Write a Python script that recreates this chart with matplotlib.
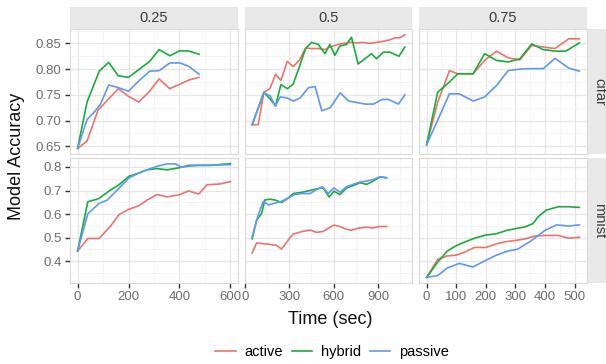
import matplotlib
matplotlib.use("Agg")
import matplotlib.pyplot as plt
from matplotlib.lines import Line2D
from matplotlib.ticker import MultipleLocator, FormatStrFormatter

plt.rcParams['font.family'] = ['Liberation Sans', 'DejaVu Sans']

# ---- data -----------------------------------------------------------------
datasets = ["cifar", "mnist"]
fractions = ["0.25", "0.5", "0.75"]
strategies = ["active", "hybrid", "passive"]
colors = ["#F0736B", "#19AD3A", "#5F98F8"]

# cifar, fraction 0.25
c25_active_t = [0, 37, 80, 122, 160, 200, 240, 283, 320, 362, 403, 438, 477]
c25_active = [0.646, 0.660, 0.720, 0.742, 0.762, 0.747, 0.736, 0.757, 0.781, 0.762, 0.771, 0.779, 0.784]
c25_hybrid_t = [0, 37, 85, 122, 160, 200, 240, 283, 320, 362, 403, 438, 477]
c25_hybrid = [0.646, 0.736, 0.796, 0.813, 0.787, 0.784, 0.799, 0.815, 0.838, 0.826, 0.836, 0.835, 0.829]
c25_passive_t = [0, 37, 63, 89, 122, 160, 200, 240, 283, 320, 362, 403, 438, 477]
c25_passive = [0.646, 0.702, 0.715, 0.731, 0.769, 0.764, 0.757, 0.777, 0.796, 0.797, 0.812, 0.812, 0.805, 0.790]

# cifar, fraction 0.5
c50_active_t = [50, 91, 129, 170, 208, 244, 287, 327, 368, 410, 451, 496, 541, 574, 642, 709,
                754, 799, 844, 889, 934, 979, 1013, 1047, 1080]
c50_active = [0.692, 0.692, 0.755, 0.762, 0.790, 0.778, 0.815, 0.805, 0.817, 0.841, 0.840, 0.840,
              0.838, 0.843, 0.849, 0.852, 0.851, 0.852, 0.850, 0.852, 0.854, 0.857, 0.861, 0.861, 0.867]
c50_hybrid_t = [50, 129, 170, 208, 244, 287, 327, 368, 410, 451, 496, 541, 574, 608, 642, 687,
                720, 765, 810, 855, 889, 934, 979, 1040, 1080]
c50_hybrid = [0.692, 0.755, 0.742, 0.729, 0.770, 0.762, 0.771, 0.804, 0.840, 0.852, 0.848, 0.830,
              0.848, 0.827, 0.845, 0.848, 0.862, 0.810, 0.820, 0.830, 0.820, 0.833, 0.833, 0.825, 0.843]
c50_passive_t = [50, 129, 172, 206, 239, 284, 329, 374, 430, 475, 520, 577, 644, 700, 757, 813,
                 869, 925, 970, 1037, 1080]
c50_passive = [0.692, 0.754, 0.748, 0.728, 0.746, 0.744, 0.738, 0.744, 0.764, 0.766, 0.719, 0.725,
               0.754, 0.738, 0.735, 0.732, 0.732, 0.741, 0.741, 0.732, 0.750]

# cifar, fraction 0.75
c75_active_t = [0, 37, 77, 105, 157, 196, 236, 275, 315, 355, 394, 434, 480, 516]
c75_active = [0.653, 0.735, 0.797, 0.791, 0.791, 0.817, 0.835, 0.822, 0.818, 0.846, 0.843, 0.840, 0.859, 0.859]
c75_hybrid_t = [0, 37, 77, 105, 157, 196, 236, 275, 315, 355, 394, 434, 470, 516]
c75_hybrid = [0.653, 0.755, 0.775, 0.791, 0.791, 0.830, 0.817, 0.814, 0.820, 0.849, 0.838, 0.835, 0.835, 0.851]
c75_passive_t = [0, 77, 110, 157, 196, 236, 275, 315, 355, 394, 434, 480, 516]
c75_passive = [0.653, 0.752, 0.752, 0.738, 0.746, 0.768, 0.797, 0.800, 0.801, 0.801, 0.821, 0.802, 0.796]

# mnist, fraction 0.25
m25_active_t = [0, 40, 84, 129, 162, 201, 240, 273, 312, 351, 397, 436, 476, 508, 561, 600]
m25_active = [0.443, 0.496, 0.496, 0.548, 0.597, 0.620, 0.635, 0.659, 0.683, 0.673, 0.681, 0.698,
              0.685, 0.724, 0.728, 0.738]
m25_hybrid_t = [0, 40, 84, 129, 162, 201, 240, 273, 312, 351, 397, 436, 476, 522, 600]
m25_hybrid = [0.443, 0.652, 0.666, 0.702, 0.724, 0.760, 0.774, 0.788, 0.793, 0.788, 0.796, 0.807,
              0.807, 0.807, 0.814]
m25_passive_t = [0, 40, 84, 116, 162, 201, 240, 273, 312, 351, 384, 410, 436, 476, 522, 600]
m25_passive = [0.443, 0.601, 0.645, 0.659, 0.709, 0.753, 0.774, 0.788, 0.803, 0.813, 0.813, 0.799,
               0.803, 0.807, 0.807, 0.810]

# mnist, fraction 0.5
m50_active_t = [50, 80, 125, 170, 215, 248, 293, 327, 383, 440, 484, 529, 574, 601, 642, 687,
                720, 766, 822, 867, 912, 957]
m50_active = [0.434, 0.477, 0.474, 0.471, 0.467, 0.451, 0.489, 0.515, 0.525, 0.532, 0.522, 0.526,
              0.543, 0.553, 0.547, 0.535, 0.531, 0.540, 0.544, 0.541, 0.547, 0.547]
m50_hybrid_t = [50, 80, 114, 136, 170, 203, 248, 293, 327, 383, 440, 484, 529, 570, 601, 642,
                687, 732, 777, 822, 867, 912, 957]
m50_hybrid = [0.495, 0.574, 0.603, 0.660, 0.663, 0.660, 0.649, 0.668, 0.687, 0.692, 0.700, 0.707,
              0.711, 0.672, 0.697, 0.683, 0.711, 0.721, 0.733, 0.726, 0.740, 0.758, 0.754]
m50_passive_t = [50, 91, 125, 159, 203, 248, 293, 338, 383, 440, 484, 525, 563, 601, 642, 687,
                 732, 777, 822, 867, 912, 957]
m50_passive = [0.503, 0.596, 0.654, 0.639, 0.646, 0.654, 0.668, 0.683, 0.687, 0.687, 0.704, 0.716,
               0.687, 0.711, 0.693, 0.716, 0.726, 0.736, 0.740, 0.747, 0.758, 0.754]

# mnist, fraction 0.75
m75_active_t = [0, 37, 70, 99, 127, 161, 201, 235, 269, 297, 331, 365, 399, 445, 479, 516]
m75_active = [0.331, 0.407, 0.422, 0.425, 0.437, 0.458, 0.458, 0.473, 0.483, 0.487, 0.494, 0.506,
              0.509, 0.509, 0.497, 0.501]
m75_hybrid_t = [0, 37, 70, 99, 127, 161, 201, 235, 269, 308, 331, 359, 376, 405, 445, 479, 516]
m75_hybrid = [0.331, 0.395, 0.443, 0.465, 0.480, 0.497, 0.511, 0.516, 0.530, 0.540, 0.545, 0.559,
              0.588, 0.617, 0.631, 0.631, 0.628]
m75_passive_t = [0, 37, 70, 110, 156, 195, 235, 275, 308, 354, 399, 439, 479, 516]
m75_passive = [0.331, 0.338, 0.371, 0.390, 0.375, 0.400, 0.425, 0.443, 0.451, 0.487, 0.530, 0.554,
               0.549, 0.554]

panels = {
    (0, 0): [(c25_active_t, c25_active), (c25_hybrid_t, c25_hybrid), (c25_passive_t, c25_passive)],
    (0, 1): [(c50_active_t, c50_active), (c50_hybrid_t, c50_hybrid), (c50_passive_t, c50_passive)],
    (0, 2): [(c75_active_t, c75_active), (c75_hybrid_t, c75_hybrid), (c75_passive_t, c75_passive)],
    (1, 0): [(m25_active_t, m25_active), (m25_hybrid_t, m25_hybrid), (m25_passive_t, m25_passive)],
    (1, 1): [(m50_active_t, m50_active), (m50_hybrid_t, m50_hybrid), (m50_passive_t, m50_passive)],
    (1, 2): [(m75_active_t, m75_active), (m75_hybrid_t, m75_hybrid), (m75_passive_t, m75_passive)],
}

x_major = [200, 300, 100]
y_major = [0.05, 0.1]
y_fmt = ["%.2f", "%.1f"]

# ---- figure ---------------------------------------------------------------
W, H = 606, 364
fig, axes = plt.subplots(2, 3, sharex="col", sharey="row", figsize=(W / 100, H / 100), dpi=100)
left_px, right_px, top_px, bottom_px = 70, 587, 29, 283
fig.subplots_adjust(left=left_px / W, right=right_px / W, top=1 - top_px / H,
                    bottom=1 - bottom_px / H, wspace=0.039, hspace=0.032)

grid_major = "#E6E6E6"
grid_minor = "#F3F3F3"
tick_col = "#6E6E6E"

for (r, c), series in panels.items():
    ax = axes[r, c]
    ax.set_facecolor("white")
    for (t, v), col in zip(series, colors):
        ax.plot(t, v, color=col, lw=1.2, solid_joinstyle="round", zorder=3)
    ax.margins(x=0.05, y=0.05)
    ax.xaxis.set_major_locator(MultipleLocator(x_major[c]))
    ax.xaxis.set_minor_locator(MultipleLocator(x_major[c] / 2))
    ax.yaxis.set_major_locator(MultipleLocator(y_major[r]))
    ax.yaxis.set_minor_locator(MultipleLocator(y_major[r] / 2))
    ax.yaxis.set_major_formatter(FormatStrFormatter(y_fmt[r]))
    ax.grid(True, which="major", color=grid_major, lw=0.9, zorder=0)
    ax.grid(True, which="minor", color=grid_minor, lw=0.6, zorder=0)
    ax.set_axisbelow(True)
    for s in ax.spines.values():
        s.set_color("#DADADA")
        s.set_linewidth(0.8)
    ax.tick_params(which="minor", length=0)
    ax.tick_params(which="major", length=3.5, width=1.0, color="#333333",
                   labelsize=9.5, labelcolor=tick_col, pad=2.5)
    if c > 0:
        ax.tick_params(axis="y", which="both", left=False, labelleft=False)
    if r == 0:
        ax.tick_params(axis="x", which="both", bottom=False, labelbottom=False)

# facet strips
strip_fill = "#E8E8E8"
strip_text = "#3A3A3A"
strip_h = 22
for c, lab in enumerate(fractions):
    pos = axes[0, c].get_position()
    sax = fig.add_axes([pos.x0, pos.y1, pos.width, strip_h / H])
    sax.set_facecolor(strip_fill)
    sax.set_xticks([]); sax.set_yticks([])
    for s in sax.spines.values():
        s.set_visible(False)
    sax.text(0.5, 0.5, lab, ha="center", va="center", fontsize=10.5, color=strip_text,
             transform=sax.transAxes)
for r, lab in enumerate(datasets):
    pos = axes[r, 2].get_position()
    sax = fig.add_axes([pos.x1 + 1 / W, pos.y0, strip_h / W, pos.height])
    sax.set_facecolor(strip_fill)
    sax.set_xticks([]); sax.set_yticks([])
    for s in sax.spines.values():
        s.set_visible(False)
    sax.text(0.5, 0.5, lab, ha="center", va="center", fontsize=10.5, color=strip_text,
             rotation=-90, transform=sax.transAxes)

# axis titles
fig.text(17 / W, 1 - 156 / H, "Model Accuracy", rotation=90, ha="center", va="center",
         fontsize=13, color="#111111")
fig.text(330 / W, 1 - 320 / H, "Time (sec)", ha="center", va="center",
         fontsize=13, color="#111111")

# legend
handles = [Line2D([], [], color=col, lw=1.2) for col in colors]
fig.legend(handles, strategies, loc="center", bbox_to_anchor=(332 / W, 1 - 352 / H), ncol=3,
           frameon=False, fontsize=10.5, handlelength=1.4, handletextpad=0.6,
           columnspacing=0.6, borderpad=0.0)

fig.savefig("out.png", dpi=100)
